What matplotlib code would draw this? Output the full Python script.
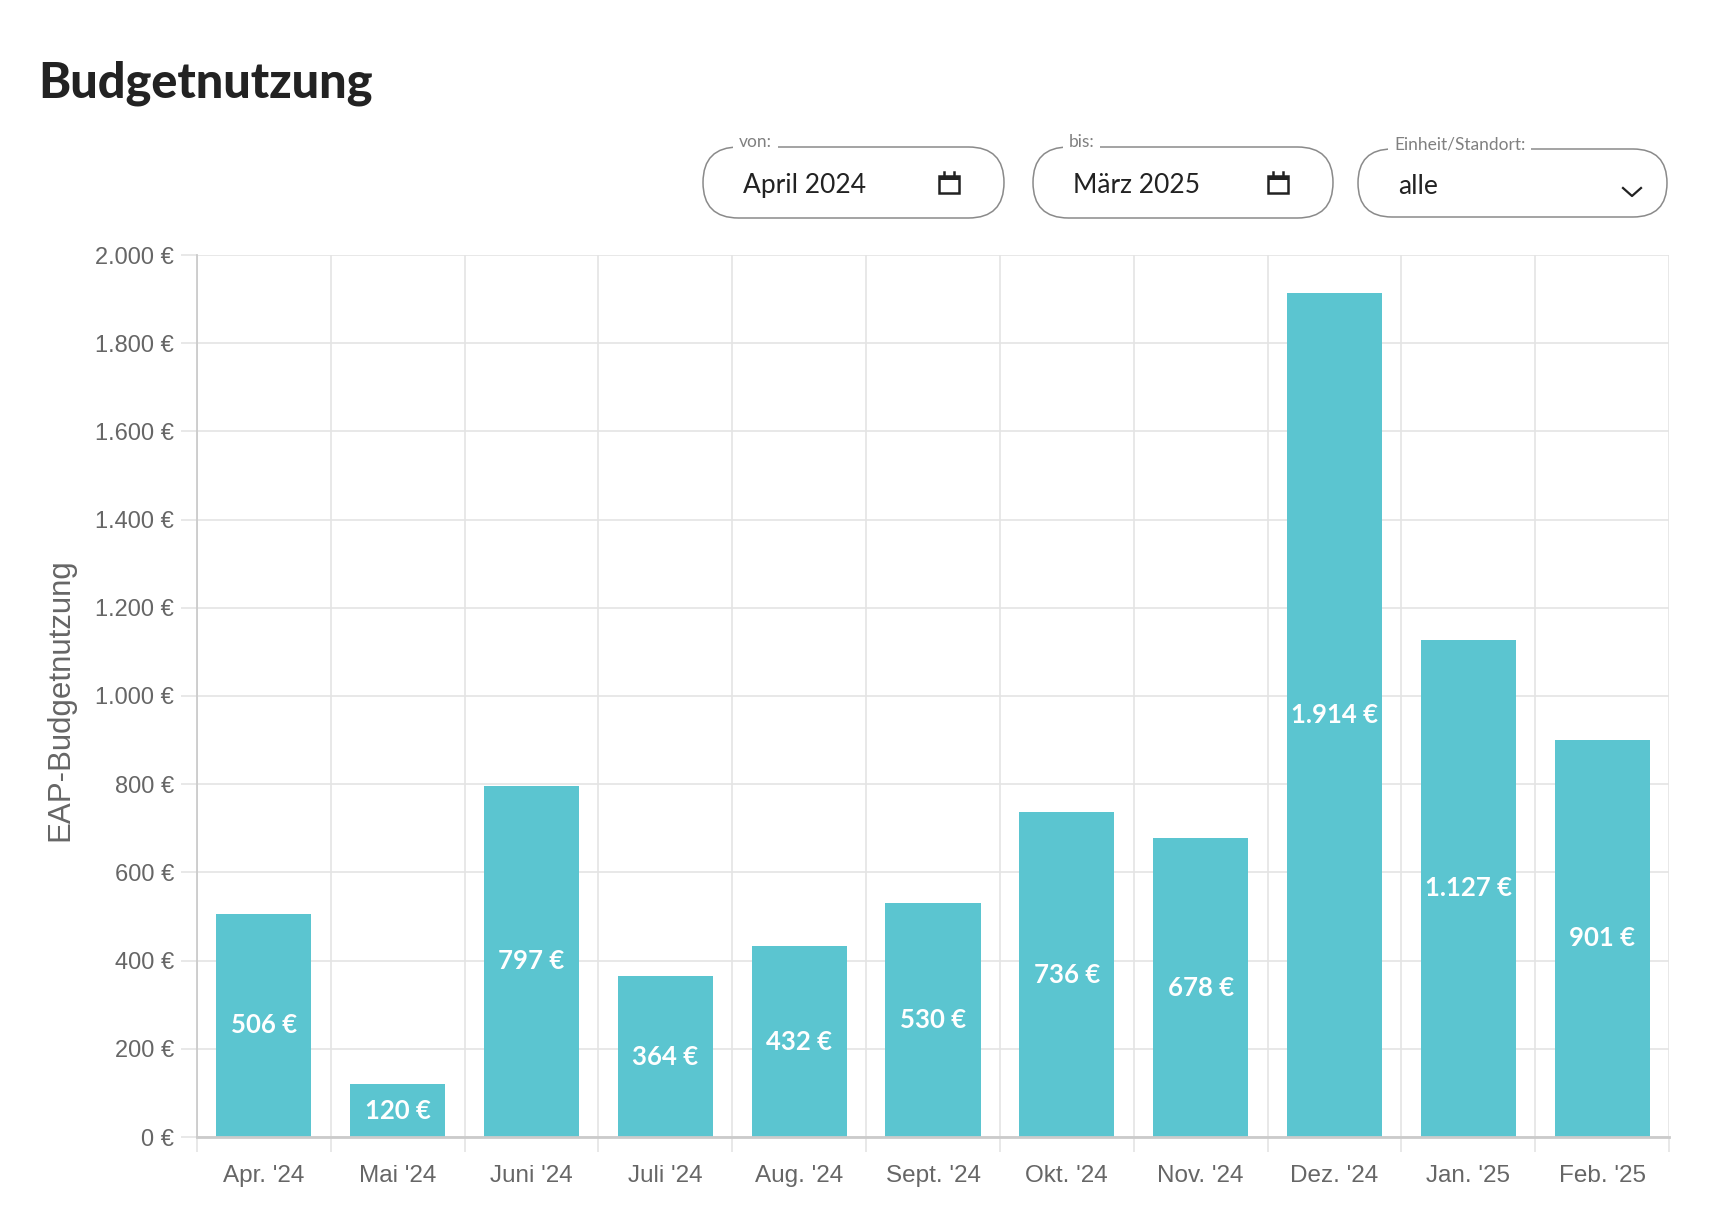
import numpy as np
import matplotlib
matplotlib.use("Agg")
import matplotlib.pyplot as plt
from matplotlib.patches import FancyBboxPatch, Rectangle

# data
months = ["Apr. '24", "Mai '24", "Juni '24", "Juli '24", "Aug. '24", "Sept. '24",
          "Okt. '24", "Nov. '24", "Dez. '24", "Jan. '25", "Feb. '25"]
values = [506, 120, 797, 364, 432, 530, 736, 678, 1914, 1127, 901]
y_ticks = [0, 200, 400, 600, 800, 1000, 1200, 1400, 1600, 1800, 2000]

title = "Budgetnutzung"
y_label = "EAP-Budgetnutzung"
filter_labels = ["von:", "bis:", "Einheit/Standort:"]
filter_values = ["April 2024", "März 2025", "alle"]

BAR = "#5bc5d0"
GRID = "#e4e4e4"
AXIS = "#cbcbcb"
TXT = "#666666"

W, H = 1710, 1206


def euro(v):
    return f"{v:,.0f} €".replace(",", ".")


fig = plt.figure(figsize=(W / 100, H / 100), dpi=100)
fig.patch.set_facecolor("white")

# overlay in pixel units for title and filter widgets
ov = fig.add_axes([0, 0, 1, 1])
ov.set_xlim(0, W)
ov.set_ylim(H, 0)
ov.axis("off")

ov.text(38, 97, title, fontsize=35, fontweight="black", family="Lato",
        color="#222222", va="baseline", ha="left")

boxes = [(703, 147, 301, 71), (1033, 147, 300, 71), (1358, 149, 309, 68)]
for (bx, by, bw, bh), lab, val in zip(boxes, filter_labels, filter_values):
    ov.add_patch(FancyBboxPatch((bx, by), bw, bh,
                                boxstyle=f"round,pad=0,rounding_size={bh / 2}",
                                fc="none", ec="#8a8a8a", lw=1.1))
    ov.text(bx + 36, by - 5, lab, fontsize=12.5, family="Lato", color="#808080",
            va="center", ha="left",
            bbox=dict(fc="white", ec="none", pad=4))
    ov.text(bx + 40, by + bh / 2 + 3, val, fontsize=19, family="Lato",
            color="#222222", va="center", ha="left")

# calendar icons
for bx, by, bw, bh in boxes[:2]:
    cx = bx + bw - 55
    ov.add_patch(Rectangle((cx - 10, 176), 20, 17, fc="none", ec="#222222", lw=1.8))
    ov.add_patch(Rectangle((cx - 10, 176), 20, 4, fc="#222222", ec="none"))
    ov.plot([cx - 5, cx - 5], [172, 177], color="#222222", lw=1.8)
    ov.plot([cx + 5, cx + 5], [172, 177], color="#222222", lw=1.8)

# dropdown chevron
ov.plot([1623, 1632, 1641], [188, 196, 188], color="#222222", lw=1.6)

# chart
ax = fig.add_axes([197 / W, 1 - 1137 / H, (1669 - 197) / W, (1137 - 255) / H])
x = np.arange(len(months))
bars = ax.bar(x, values, width=0.71, color=BAR, zorder=3)
for xi, v in zip(x, values):
    ax.text(xi, v / 2, euro(v), ha="center", va="center", color="white",
            fontsize=18.5, fontweight="bold", family="Lato", zorder=4)

ax.set_xlim(-0.5, len(months) - 0.5)
ax.set_ylim(0, 2000)

ax.set_xticks(np.arange(-0.5, len(months), 1))
ax.set_xticklabels([])
ax.set_xticks(x, minor=True)
ax.set_xticklabels(months, minor=True, fontsize=17.5, color=TXT, family="Liberation Sans")
ax.tick_params(axis="x", which="major", length=11, width=1.2, color=GRID)
ax.tick_params(axis="x", which="minor", length=0, pad=20)

ax.set_yticks(y_ticks)
ax.set_yticklabels([euro(v) for v in y_ticks], fontsize=17, color=TXT,
                   family="Liberation Sans")
ax.tick_params(axis="y", length=11.5, width=1.2, color=GRID, pad=5)

ax.grid(True, which="major", color=GRID, lw=1.2, zorder=0)
ax.set_axisbelow(True)
for s in ["top", "right"]:
    ax.spines[s].set_visible(False)
ax.spines["left"].set_color(AXIS)
ax.spines["left"].set_linewidth(1.3)
ax.spines["bottom"].set_color(AXIS)
ax.spines["bottom"].set_linewidth(2)
ax.spines["bottom"].set_zorder(5)

fig.text(60 / W, 1 - 700 / H, y_label, rotation=90, ha="center", va="center",
         fontsize=22.5, color=TXT, family="Liberation Sans")

fig.savefig("out.png", dpi=100, facecolor="white")
